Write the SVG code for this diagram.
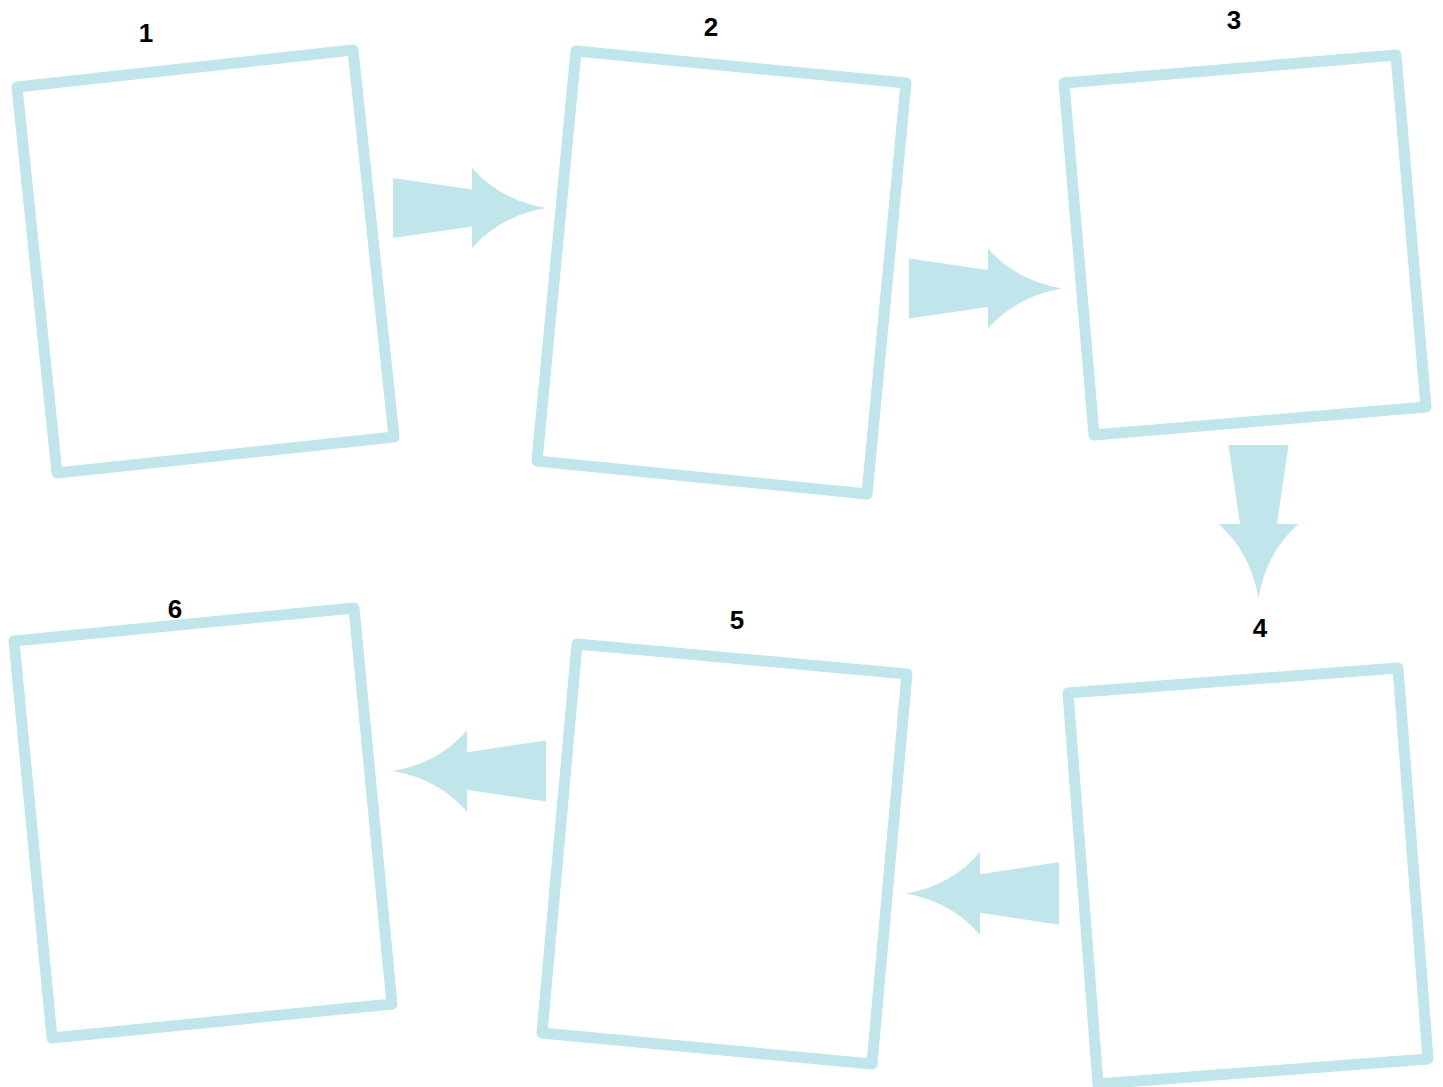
<svg xmlns="http://www.w3.org/2000/svg" width="1443" height="1087" viewBox="0 0 1443 1087">
<style>
.box{fill:none;stroke:#C0E6EC;stroke-width:11;stroke-linejoin:round}
.arr{fill:#C0E6EC}
.lbl{font-family:"Liberation Sans",Arial,sans-serif;font-weight:bold;font-size:26px;fill:#000;text-anchor:middle}
</style>
<defs>
<path id="arrowR" d="M-153,-30 L-74,-18.5 L-74,-40 Q-46,-8 0,0 Q-46,8 -74,40 L-74,18.5 L-153,30 Z"/>
</defs>
<rect width="1443" height="1087" fill="#fff"/>
<g id="connectors">
<use href="#arrowR" class="arr" transform="translate(546,208)"/>
<use href="#arrowR" class="arr" transform="translate(1062,288.5)"/>
<use href="#arrowR" class="arr" transform="translate(1258.5,598) rotate(90)"/>
<use href="#arrowR" class="arr" transform="translate(906,893.5) rotate(180) scale(1,1.04)"/>
<use href="#arrowR" class="arr" transform="translate(393,771) rotate(180) scale(1,1.02)"/>
</g>
<g id="node1">
<polygon class="box" points="17,87 353,50 394,437 57,473"/>
<text class="lbl" x="146" y="42">1</text>
</g>
<g id="node2">
<polygon class="box" points="576,51 906,83 867,494 537,461"/>
<text class="lbl" x="711" y="36">2</text>
</g>
<g id="node3">
<polygon class="box" points="1064,83 1396,55 1426,407 1094,435"/>
<text class="lbl" x="1234" y="29">3</text>
</g>
<g id="node4">
<polygon class="box" points="1068,693 1398,668 1428,1059 1098,1084"/>
<text class="lbl" x="1260" y="637">4</text>
</g>
<g id="node5">
<polygon class="box" points="577,644 907,674 872,1064 542,1033"/>
<text class="lbl" x="737" y="629">5</text>
</g>
<g id="node6">
<polygon class="box" points="14,641 354,608 392,1004 52,1038"/>
<text class="lbl" x="175" y="618">6</text>
</g>
</svg>
